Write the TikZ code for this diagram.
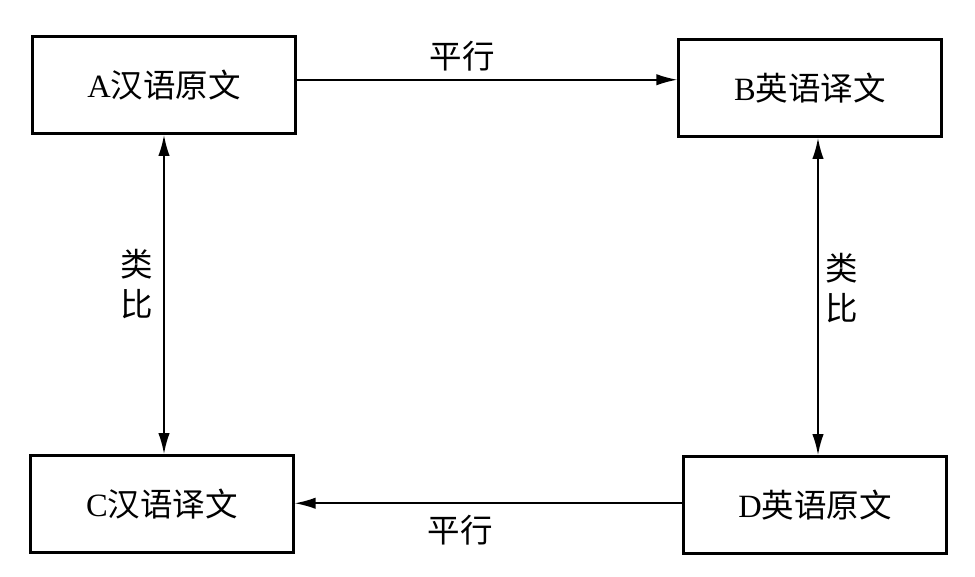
\documentclass[tikz,border=0pt]{standalone}
\usepackage{fontspec}
\setmainfont{Liberation Serif}
\newfontfamily\cjk{Noto Sans CJK SC}
\usetikzlibrary{arrows.meta}

\tikzset{
    textbox/.style={draw, line width=1.6pt, minimum width=5.25cm, minimum height=1.94cm, inner sep=0pt},
    link/.style={line width=1pt, -{Latex[length=12pt, width=6.5pt]}},
    biglink/.style={line width=1pt, {Latex[length=12pt, width=6.5pt]}-{Latex[length=12pt, width=6.5pt]}}
}

\begin{document}
\begin{tikzpicture}[x=0.02cm, y=-0.02cm, font=\fontsize{18.5}{23}\selectfont]
        \useasboundingbox (0,0) rectangle (975,576);
        \node[textbox] (a) at (164,85) {A{\cjk 汉语原文}};
        \node[textbox] (b) at (810,88) {B{\cjk 英语译文}};
        \node[textbox] (c) at (162,504) {C{\cjk 汉语译文}};
        \node[textbox] (d) at (815,505) {D{\cjk 英语原文}};
        \draw[link] ([yshift=3pt]a.east) -- ([yshift=3pt]a.east -| b.west);
        \draw[link] ([yshift=1pt]d.west) -- ([yshift=1pt]d.west -| c.east);
        \draw[biglink] (a.south) -- (a.south |- c.north);
        \draw[biglink] ([xshift=0.16cm]b.south) -- ([xshift=0.16cm]b.south |- d.north);
        \node (p1) at (462,56) {\cjk 平行};
        \node (p2) at (460,530) {\cjk 平行};
        \node[align=center] (l1) at (137,284) {\cjk 类\\\cjk 比};
        \node[align=center] (l2) at (842,288) {\cjk 类\\\cjk 比};
    \end{tikzpicture}
\end{document}
